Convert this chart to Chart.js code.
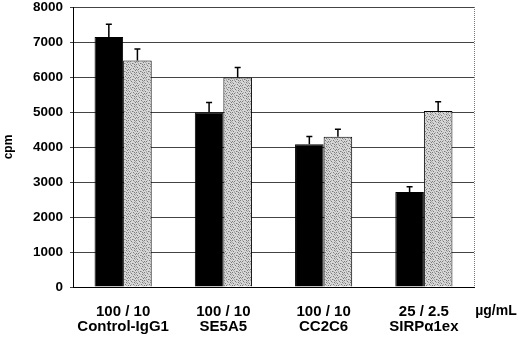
<!DOCTYPE html>
<html><head><meta charset="utf-8">
<script src="https://cdn.jsdelivr.net/npm/chart.js@4/dist/chart.umd.min.js"></script>
<style>html,body{margin:0;padding:0;background:#fff}#wrap{width:520px;height:338px}</style>
</head><body><div id="wrap"><canvas id="c" width="520" height="338"></canvas></div>
<script>
const doses = ["100 / 10", "100 / 10", "100 / 10", "25 / 2.5"];
const agents = ["Control-IgG1", "SE5A5", "CC2C6", "SIRPα1ex"];
const blackValues = [7140, 4990, 4080, 2715];
const blackErrors = [7510, 5270, 4300, 2865];
const greyValues = [6475, 5985, 4290, 5030];
const greyErrors = [6800, 6275, 4510, 5290];
const yTicks = [0, 1000, 2000, 3000, 4000, 5000, 6000, 7000, 8000];
const unitLabel = "µg/mL";
const yTitle = "cpm";

const FONT = "'Liberation Sans', Arial, sans-serif";

function makePattern() {
  const t = document.createElement('canvas');
  t.width = 8; t.height = 8;
  const g = t.getContext('2d');
  g.fillStyle = '#d6d6d6'; g.fillRect(0, 0, 8, 8);
  const dark = [[0,0],[3,1],[6,2],[1,3],[5,4],[2,5],[7,6],[4,7],[6,0],[0,5]];
  const mid = [[2,0],[7,1],[4,2],[0,2],[3,4],[6,5],[1,6],[5,7],[2,7],[7,3]];
  g.fillStyle = '#7a7a7a'; dark.forEach(p => g.fillRect(p[0], p[1], 1, 1));
  g.fillStyle = '#a8a8a8'; mid.forEach(p => g.fillRect(p[0], p[1], 1, 1));
  return g.createPattern(t, 'repeat');
}

const errorData = [blackErrors, greyErrors];

const errorBars = {
  id: 'errorBars',
  afterDatasetsDraw(chart) {
    const ctx = chart.ctx, ys = chart.scales.y;
    ctx.save();
    ctx.strokeStyle = '#000';
    ctx.lineWidth = 1.5;
    errorData.forEach((errs, di) => {
      const meta = chart.getDatasetMeta(di);
      meta.data.forEach((el, j) => {
        const yTop = el.y, yE = ys.getPixelForValue(errs[j]);
        ctx.beginPath();
        ctx.moveTo(el.x, yTop); ctx.lineTo(el.x, yE);
        ctx.moveTo(el.x - 3, yE); ctx.lineTo(el.x + 3, yE);
        ctx.stroke();
      });
    });
    ctx.restore();
  }
};

const extras = {
  id: 'extras',
  afterDraw(chart) {
    const ctx = chart.ctx, a = chart.chartArea;
    ctx.save();
    ctx.strokeStyle = '#777';
    ctx.lineWidth = 1;
    ctx.setLineDash([1, 1]);
    ctx.beginPath();
    ctx.moveTo(a.right + 0.5, a.top); ctx.lineTo(a.right + 0.5, a.bottom);
    ctx.stroke();
    ctx.setLineDash([]);
    ctx.fillStyle = '#000';
    ctx.font = "bold 14px " + FONT;
    ctx.textAlign = 'center';
    ctx.textBaseline = 'middle';
    ctx.fillText(unitLabel, 496, 311);
    ctx.restore();
  }
};

new Chart(document.getElementById('c'), {
  type: 'bar',
  data: {
    labels: doses.map((d, i) => [d, agents[i]]),
    datasets: [
      { data: blackValues, backgroundColor: '#000', borderColor: '#000', borderWidth: 1 },
      { data: greyValues, backgroundColor: makePattern(), borderColor: '#000', borderWidth: 1 }
    ]
  },
  options: {
    responsive: false,
    animation: false,
    devicePixelRatio: 1,
    layout: { padding: { left: 0, right: 46, top: 7, bottom: 0 } },
    plugins: { legend: { display: false }, tooltip: { enabled: false } },
    datasets: { bar: { categoryPercentage: 0.57, barPercentage: 1 } },
    scales: {
      x: {
        grid: { display: false },
        border: { display: true, color: '#000', width: 1 },
        ticks: { color: '#000', font: { family: FONT, weight: 'bold', size: 15, lineHeight: 1.03 }, padding: 9, maxRotation: 0 },
        afterFit(s) { s.height = 51; s.paddingLeft = 0; s.paddingRight = 0; }
      },
      y: {
        min: 0, max: 8000,
        afterBuildTicks(s) { s.ticks = yTicks.map(v => ({ value: v })); },
        grid: { color: '#444', lineWidth: 1, drawTicks: true, tickLength: 3 },
        border: { display: true, color: '#000', width: 1 },
        ticks: { color: '#000', font: { family: FONT, weight: 'bold', size: 13.5 }, padding: 7, callback: v => String(v) },
        title: { display: true, text: yTitle, color: '#000', font: { family: FONT, weight: 'bold', size: 12 }, padding: { top: 1, bottom: 0 } },
        afterFit(s) { s.width = 73; s.paddingTop = 0; s.paddingBottom = 0; }
      }
    }
  },
  plugins: [errorBars, extras]
});
</script>
</body></html>
